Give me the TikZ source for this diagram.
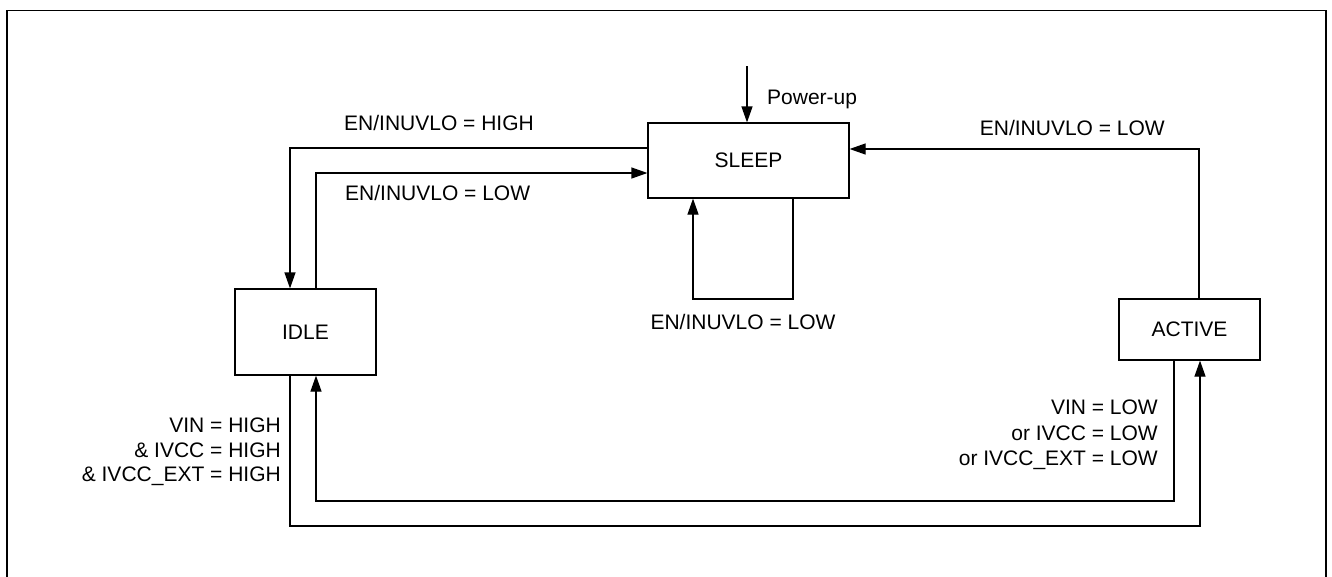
\documentclass[tikz,border=0pt]{standalone}
\usepackage{fontspec}
\setmainfont{Liberation Sans}
\usetikzlibrary{arrows.meta}
\begin{document}
\begin{tikzpicture}[x=1pt,y=-1pt,
  every node/.style={font=\fontsize{21}{25}\selectfont},
  statebox/.style={draw,line width=1.2pt,inner sep=0pt},
  lbl/.style={inner sep=0pt,text height=15pt,text depth=0pt},
  conn/.style={line width=1.2pt},
  arr/.style={conn,-{Triangle[length=16pt,width=11pt]}}]
\useasboundingbox (0,0) rectangle (1332,576);
\draw[line width=1.2pt] (7,580) -- (7,10.5) -- (1326,10.5) -- (1326,580);
% states
\node[statebox,minimum width=201pt,minimum height=75pt] (sleep) at (748.5,160.5) {SLEEP};
\node[statebox,minimum width=141pt,minimum height=86pt] (idle) at (305.5,332) {IDLE};
\node[statebox,minimum width=141pt,minimum height=61pt] (active) at (1189.5,329.5) {ACTIVE};
% corner coordinates
\coordinate (c1) at (290,148);
\coordinate (c2) at (316,173);
\coordinate (l1) at (693,299);
\coordinate (l2) at (793,299);
\coordinate (r1) at (1199,149);
\coordinate (b1) at (1174,501);
\coordinate (b2) at (1200,526);
\coordinate (pu) at (747,66);
% connectors
\draw[arr] (pu) -- (sleep.north -| pu);
\draw[arr] (sleep.west |- c1) -| (idle.north -| c1);
\draw[arr] (idle.north -| c2) |- (sleep.west |- c2);
\draw[arr] (sleep.south -| l2) -- (l2) -- (l1) -- (sleep.south -| l1);
\draw[arr] (active.north -| r1) |- (sleep.east |- r1);
\draw[arr] (active.south -| b1) -- (b1) -| (idle.south -| c2);
\draw[arr] (idle.south -| c1) |- (b2) -- (active.south -| b2);
% labels
\node[lbl,anchor=west] (t1) at (767,97) {Power-up};
\node[lbl,anchor=west] (t2) at (344,123) {EN/INUVLO = HIGH};
\node[lbl,anchor=west] (t3) at (345,193) {EN/INUVLO = LOW};
\node[lbl] (t4) at (743,322) {EN/INUVLO = LOW};
\node[lbl,anchor=east] (t5) at (1165,128) {EN/INUVLO = LOW};
\node[lbl,anchor=east] (h1) at (281,425) {VIN = HIGH};
\node[lbl,anchor=east] (h2) at (281,450) {\& IVCC = HIGH};
\node[lbl,anchor=east] (h3) at (281,474) {\& IVCC\_EXT = HIGH};
\node[lbl,anchor=east] (w1) at (1158,407) {VIN = LOW};
\node[lbl,anchor=east] (w2) at (1158,433) {or IVCC = LOW};
\node[lbl,anchor=east] (w3) at (1158,458) {or IVCC\_EXT = LOW};
\end{tikzpicture}
\end{document}
